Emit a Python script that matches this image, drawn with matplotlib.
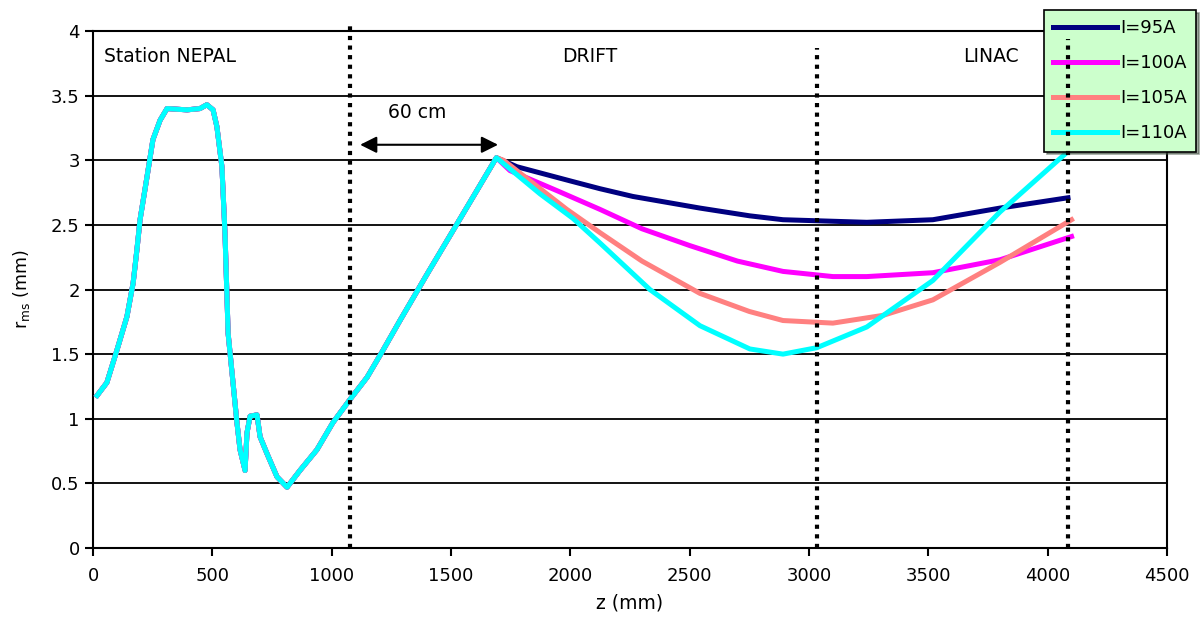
import matplotlib
matplotlib.use("Agg")
import matplotlib.pyplot as plt
import numpy as np

plt.rcParams['font.family'] = ['DejaVu Sans']
plt.rcParams['mathtext.default'] = 'regular'

# common part of the envelope (all currents overlap up to the peak)
z_common = [17, 58, 100, 142, 168, 184, 197, 226, 251, 281, 310, 394, 448, 477, 503,
            519, 540, 553, 566, 587, 603, 616, 637, 645, 658, 687, 700, 729, 771,
            813, 867, 938, 1005, 1077, 1148, 1215, 1286, 1400, 1500, 1600, 1690]
r_common = [1.18, 1.28, 1.53, 1.79, 2.05, 2.31, 2.54, 2.87, 3.16, 3.31, 3.40, 3.39, 3.40,
            3.43, 3.39, 3.26, 2.95, 2.43, 1.66, 1.27, 0.97, 0.76, 0.60, 0.89, 1.02,
            1.03, 0.86, 0.73, 0.55, 0.47, 0.60, 0.76, 0.97, 1.15, 1.32, 1.53, 1.76,
            2.12, 2.43, 2.74, 3.02]

# drift + linac part for each current
z_95 = [1776, 2000, 2124, 2262, 2543, 2752, 2891, 3242, 3519, 3800, 4085]
r_95 = [2.95, 2.84, 2.78, 2.72, 2.63, 2.57, 2.54, 2.52, 2.54, 2.63, 2.71]

z_100 = [1747, 1950, 2124, 2300, 2500, 2700, 2891, 3100, 3242, 3519, 3800, 4100]
r_100 = [2.92, 2.76, 2.62, 2.47, 2.34, 2.22, 2.14, 2.10, 2.10, 2.13, 2.23, 2.41]

z_105 = [1720, 1985, 2124, 2300, 2543, 2750, 2891, 3100, 3310, 3519, 3800, 4100]
r_105 = [3.00, 2.62, 2.44, 2.22, 1.97, 1.83, 1.76, 1.74, 1.80, 1.92, 2.21, 2.54]

z_110 = [1873, 2011, 2124, 2333, 2543, 2752, 2891, 3033, 3242, 3519, 3800, 4080]
r_110 = [2.74, 2.55, 2.36, 2.00, 1.72, 1.54, 1.50, 1.55, 1.71, 2.07, 2.60, 3.06]

labels = ['I=95A', 'I=100A', 'I=105A', 'I=110A']
colors = ['#000080', '#ff00ff', '#ff8080', '#00ffff']
series = [(z_95, r_95), (z_100, r_100), (z_105, r_105), (z_110, r_110)]

# section boundaries (dotted lines) and their top
z_marks = [1075, 3035, 4085]
r_marks_top = [4.07, 3.87, 3.94]

fig = plt.figure(figsize=(12.02, 6.23), dpi=100)
ax = fig.add_axes([0.0774, 0.1204, 0.8935, 0.8298])

for (zs, rs), c, lab in zip(series, colors, labels):
    ax.plot(z_common + zs, r_common + rs, color=c, lw=3.6, label=lab,
            solid_joinstyle='round', zorder=3)

for zm, top in zip(z_marks, r_marks_top):
    ax.plot([zm, zm], [0, top], color='black', lw=3, linestyle=(0, (1, 1.3)),
            clip_on=False, zorder=5)

ax.annotate('', xy=(1119, 3.12), xytext=(1697, 3.12),
            arrowprops=dict(arrowstyle='<|-|>', color='black', lw=1.5,
                            mutation_scale=25, shrinkA=0, shrinkB=0))
ax.text(1360, 3.37, '60 cm', ha='center', va='center', fontsize=13.5)
ax.text(44, 3.80, 'Station NEPAL', ha='left', va='center', fontsize=13.5)
ax.text(2082, 3.80, 'DRIFT', ha='center', va='center', fontsize=13.5)
ax.text(3762, 3.80, 'LINAC', ha='center', va='center', fontsize=13.5)

ax.set_xlim(0, 4500)
ax.set_ylim(0, 4)
ax.set_xticks(np.arange(0, 4501, 500))
ax.set_yticks(np.arange(0, 4.01, 0.5))
ax.set_yticklabels(['0', '0.5', '1', '1.5', '2', '2.5', '3', '3.5', '4'])
ax.tick_params(labelsize=13, width=1.5, length=6, direction='out')
ax.tick_params(axis='x', pad=8)
ax.yaxis.grid(True, color='black', lw=1.3)
ax.set_axisbelow(True)
for s in ax.spines.values():
    s.set_linewidth(1.5)

ax.set_xlabel('z (mm)', fontsize=13.5, labelpad=6)
ax.set_ylabel('r$_{ms}$ (mm)', fontsize=12.5, labelpad=14)

leg = ax.legend(loc='upper right', bbox_to_anchor=(1196 / 1202, 1 - 10 / 623),
                bbox_transform=fig.transFigure, fontsize=13, frameon=True,
                fancybox=False, shadow=True, facecolor='#ccffcc', edgecolor='black',
                framealpha=1, handlelength=3.5, handletextpad=0.2,
                labelspacing=0.95, borderpad=0.5, borderaxespad=0)
leg.get_frame().set_linewidth(1.2)
leg.set_zorder(4)

fig.savefig('out.png', dpi=100)
